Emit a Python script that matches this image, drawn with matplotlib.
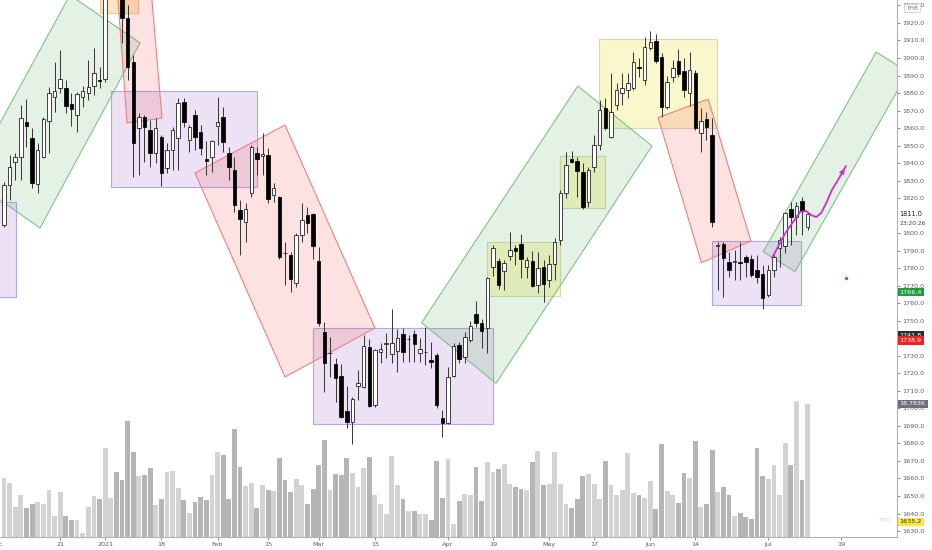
import matplotlib
matplotlib.use('Agg')
import matplotlib.pyplot as plt
from matplotlib.patches import Polygon, Rectangle
import numpy as np

# ---------------- data (daily candles) ----------------
opens = [1804.7, 1827.5, 1840.6, 1843.5, 1863.5, 1854.3, 1828.1, 1843.5, 1864.0, 1877.7,
         1882.9, 1882.9, 1873.7, 1867.5, 1877.7, 1880.0, 1884.0, 1887.4, 1888.0, 1943.0,
         1950.0, 1938.0, 1922.8, 1897.7, 1860.0, 1866.3, 1858.9, 1845.8, 1854.9, 1837.2,
         1847.5, 1854.3, 1874.9, 1853.2, 1867.5, 1857.8, 1842.3, 1843.5, 1861.2, 1866.3,
         1845.8, 1836.1, 1813.2, 1806.4, 1822.9, 1845.8, 1844.1, 1844.6, 1821.8, 1820.7,
         1788.7, 1787.6, 1771.6, 1799.0, 1810.4, 1811.0, 1784.1, 1743.6, 1731.4, 1725.3,
         1718.5, 1698.5, 1692.2, 1712.8, 1712.2, 1735.0, 1701.9, 1732.2, 1736.8, 1731.0,
         1732.8, 1742.4, 1739.4, 1742.4, 1731.6, 1732.0, 1727.6, 1730.5, 1694.5, 1691.7,
         1718.5, 1736.2, 1729.3, 1739.0, 1753.9, 1748.7, 1745.9, 1780.7, 1784.1, 1778.4,
         1787.0, 1791.5, 1793.8, 1780.7, 1784.1, 1770.4, 1780.7, 1773.3, 1782.4, 1796.1,
         1822.9, 1842.3, 1841.2, 1834.9, 1817.8, 1837.8, 1850.3, 1871.5, 1854.9, 1873.2,
         1880.0, 1881.7, 1882.9, 1894.5, 1887.4, 1905.7, 1909.7, 1900.6, 1872.0, 1889.2,
         1898.3, 1892.6, 1880.0, 1891.4, 1857.2, 1865.2, 1856.0, 1792.7, 1793.8, 1783.5,
         1783.4, 1783.0, 1786.4, 1785.3, 1779.0, 1776.7, 1764.7, 1779.0, 1791.5, 1792.7,
         1813.8, 1809.2, 1818.4, 1803.5]
highs = [1829.2, 1844.6, 1845.8, 1873.2, 1876.6, 1860.0, 1851.5, 1866.3, 1883.4, 1897.7,
         1904.6, 1887.4, 1880.0, 1880.6, 1884.0, 1898.9, 1905.7, 1894.9, 1945.0, 1959.0,
         1955.0, 1941.0, 1930.2, 1901.7, 1868.6, 1867.5, 1864.6, 1865.7, 1856.0, 1851.5,
         1860.6, 1877.2, 1877.2, 1861.8, 1870.3, 1861.8, 1852.6, 1853.2, 1877.7, 1872.0,
         1849.2, 1843.5, 1818.9, 1817.2, 1850.3, 1849.2, 1857.2, 1848.6, 1828.6, 1821.5,
         1795.0, 1789.3, 1800.1, 1817.2, 1815.0, 1811.5, 1792.1, 1749.3, 1740.7, 1728.7,
         1725.3, 1712.8, 1706.5, 1721.9, 1741.9, 1739.6, 1733.9, 1737.3, 1743.0, 1756.7,
         1745.3, 1745.9, 1741.9, 1744.7, 1740.2, 1746.5, 1737.9, 1731.6, 1699.1, 1723.6,
         1737.3, 1737.9, 1743.6, 1749.9, 1761.3, 1751.0, 1775.0, 1793.3, 1785.8, 1784.7,
         1800.7, 1793.3, 1799.5, 1786.4, 1789.8, 1789.3, 1784.7, 1787.6, 1797.3, 1824.6,
         1846.3, 1846.9, 1843.5, 1840.1, 1837.8, 1856.0, 1876.0, 1877.2, 1891.4, 1885.7,
         1891.4, 1891.4, 1903.4, 1900.0, 1912.0, 1915.4, 1913.7, 1902.9, 1889.7, 1898.9,
         1905.1, 1900.0, 1903.4, 1893.1, 1871.5, 1869.2, 1865.7, 1795.0, 1795.0, 1789.3,
         1790.4, 1795.0, 1787.6, 1787.6, 1787.6, 1781.9, 1781.9, 1787.6, 1797.8, 1812.1,
         1817.8, 1817.8, 1820.7, 1812.1]
lows = [1803.5, 1818.9, 1830.4, 1830.4, 1849.2, 1825.8, 1822.9, 1842.9, 1845.8, 1869.2,
        1880.0, 1868.6, 1861.2, 1857.8, 1872.0, 1876.0, 1878.9, 1882.9, 1886.3, 1938.0,
        1935.0, 1908.6, 1887.4, 1832.1, 1833.2, 1840.6, 1837.8, 1840.1, 1826.9, 1834.4,
        1836.1, 1836.1, 1860.6, 1846.4, 1847.5, 1844.6, 1833.2, 1834.9, 1850.3, 1846.4,
        1830.4, 1812.1, 1787.6, 1795.0, 1820.7, 1833.2, 1833.2, 1817.2, 1817.8, 1785.3,
        1770.4, 1766.4, 1769.3, 1795.0, 1800.1, 1785.3, 1747.0, 1709.3, 1717.9, 1703.6,
        1694.8, 1688.8, 1679.7, 1704.8, 1711.6, 1700.8, 1700.8, 1725.9, 1728.7, 1725.9,
        1720.8, 1726.5, 1726.5, 1726.5, 1726.5, 1724.8, 1723.0, 1700.2, 1683.7, 1691.1,
        1717.9, 1725.9, 1725.9, 1737.9, 1746.5, 1734.5, 1731.6, 1775.6, 1768.1, 1767.6,
        1784.7, 1781.9, 1774.4, 1774.4, 1769.3, 1765.9, 1760.7, 1769.3, 1773.3, 1793.3,
        1820.1, 1840.0, 1820.7, 1813.8, 1815.0, 1834.9, 1847.5, 1858.9, 1854.3, 1870.3,
        1873.2, 1877.2, 1881.7, 1889.2, 1884.6, 1904.6, 1897.2, 1866.3, 1870.9, 1886.3,
        1889.2, 1877.7, 1872.6, 1858.9, 1846.4, 1853.2, 1803.5, 1767.6, 1763.6, 1775.0,
        1773.3, 1773.3, 1775.0, 1775.0, 1771.6, 1756.7, 1763.6, 1775.0, 1780.7, 1788.7,
        1793.3, 1799.0, 1799.0, 1801.8]
closes = [1827.5, 1837.8, 1843.5, 1865.7, 1861.2, 1828.6, 1847.5, 1865.2, 1880.0, 1881.2,
          1888.0, 1872.6, 1870.9, 1879.4, 1881.2, 1883.4, 1891.4, 1886.9, 1943.0, 1950.0,
          1938.0, 1922.8, 1894.9, 1851.5, 1866.3, 1860.6, 1845.8, 1860.0, 1834.4, 1847.5,
          1858.9, 1874.3, 1863.5, 1860.6, 1854.9, 1848.6, 1841.2, 1852.6, 1863.5, 1852.1,
          1837.8, 1816.1, 1808.1, 1813.8, 1849.2, 1842.3, 1845.2, 1819.5, 1825.8, 1786.4,
          1788.5, 1773.9, 1799.0, 1807.5, 1805.8, 1792.7, 1748.7, 1725.9, 1731.6, 1717.3,
          1695.1, 1692.2, 1705.4, 1714.5, 1735.6, 1701.4, 1733.3, 1733.9, 1737.0, 1737.3,
          1740.2, 1732.2, 1739.6, 1736.8, 1733.9, 1732.2, 1726.5, 1701.9, 1691.7, 1717.9,
          1735.6, 1728.2, 1740.7, 1747.0, 1748.7, 1744.2, 1774.4, 1791.5, 1770.4, 1783.0,
          1790.4, 1789.8, 1785.3, 1784.7, 1769.9, 1780.1, 1771.0, 1782.4, 1795.0, 1822.9,
          1838.9, 1840.6, 1835.5, 1815.0, 1836.1, 1850.3, 1870.3, 1860.0, 1869.2, 1881.7,
          1882.9, 1885.7, 1897.7, 1894.3, 1906.3, 1909.1, 1898.3, 1872.0, 1886.3, 1894.3,
          1890.9, 1881.7, 1893.1, 1860.0, 1864.0, 1860.6, 1806.4, 1793.3, 1785.8, 1779.0,
          1783.6, 1782.9, 1783.5, 1776.1, 1775.0, 1763.0, 1779.0, 1786.4, 1796.1, 1811.5,
          1809.2, 1815.5, 1812.7, 1811.0]
volumes_k = [8.27, 7.60, 4.26, 5.88, 4.12, 4.69, 4.88, 4.69, 6.70, 3.01,
             6.35, 3.01, 2.39, 2.39, 0.57, 4.26, 5.74, 5.35, 12.58, 5.49,
             9.18, 7.99, 16.39, 11.95, 8.56, 8.70, 9.71, 4.55, 5.41, 9.13,
             9.32, 6.98, 5.26, 3.34, 4.92, 5.59, 5.26, 8.70, 12.05, 11.62,
             5.35, 15.24, 9.89, 7.13, 7.56, 4.12, 7.27, 6.64, 6.55, 11.14,
             7.99, 6.35, 8.22, 7.27, 4.63, 6.84, 10.18, 13.72, 6.70, 8.85,
             8.79, 11.14, 9.03, 7.03, 9.75, 11.29, 5.88, 4.59, 3.30, 11.43,
             7.31, 5.41, 3.73, 3.73, 3.20, 3.30, 2.39, 10.71, 5.49, 10.94,
             1.86, 5.02, 6.07, 5.98, 9.94, 5.12, 10.57, 9.22, 9.56, 10.28,
             7.50, 7.07, 6.74, 6.70, 10.61, 12.15, 7.36, 7.50, 11.95, 7.50,
             4.63, 4.16, 5.41, 8.56, 8.85, 7.50, 5.41, 10.76, 7.41, 5.88,
             6.70, 11.90, 6.17, 5.98, 5.49, 7.89, 3.97, 13.15, 6.45, 5.88,
             4.73, 8.99, 8.36, 13.62, 4.30, 4.69, 12.29, 6.35, 7.07, 5.98,
             2.97, 3.34, 2.83, 2.54, 12.58, 8.56, 8.17, 10.14, 5.98, 13.29,
             10.14, 19.26, 8.07, 18.783]

tick_pos = [10, 18, 28, 38, 47, 56, 66, 79, 87, 97, 105, 115, 123, 136, 149]
tick_labels = ['21', '2021', '18', 'Feb', '15', 'Mar', '15', 'Apr', '19', 'May',
               '17', 'Jun', '14', 'Jul', '19']
price_ticks = list(range(1630, 1931, 10))

# drawings: (bar, price) corners
purple_boxes = [(-3.0, 2.08, 1763.6, 1818.0), (19.0, 45.0, 1826.2, 1881.3),
                (55.0, 87.0, 1691.1, 1745.7), (125.9, 141.9, 1759.0, 1795.5)]
yellow_boxes = [(85.9, 98.9, 1764.1, 1795.1), (99.0, 107.0, 1814.2, 1844.1),
                (105.9, 126.8, 1859.9, 1910.7)]
orange_boxes = [(17.1, 23.9, 1925.5, 1945.0)]
green_channels = [[(-6.12, 1831.1), (11.73, 1935.9), (24.2, 1908.6), (6.41, 1803.0)],
                  [(74.32, 1748.9), (102.1, 1884.0), (115.3, 1849.8), (87.54, 1714.3)],
                  [(135.1, 1789.4), (155.2, 1903.4), (160.85, 1892.0), (140.75, 1778.0)]]
red_channels = [[(20.02, 1944.5), (21.89, 1862.9), (28.11, 1865.7), (26.03, 1944.5)],
                [(50.0, 1861.75), (33.99, 1834.35), (50.0, 1717.9), (66.01, 1745.9)],
                [(116.4, 1866.0), (125.3, 1876.5), (132.9, 1795.5), (124.1, 1783.2)]]
path_bar = [136.65, 137.9, 139.15, 140.4, 141.64, 142.7, 143.6, 144.5, 145.4, 146.3,
            147.3, 148.6, 149.8]
path_price = [1785.8, 1793.3, 1800.7, 1806.4, 1812.1, 1812.7, 1810.4, 1809.2, 1811.5,
              1817.2, 1824.6, 1831.5, 1838.3]

# ---------------- figure ----------------
W, H = 932, 550
AX_BOTTOM = 537
AX_RIGHT = 897
fig = plt.figure(figsize=(W / 100, H / 100), dpi=100)
fig.patch.set_facecolor('white')
ax = fig.add_axes([0, (H - AX_BOTTOM) / H, AX_RIGHT / W, AX_BOTTOM / H])
axv = ax.twinx()
ax.set_zorder(axv.get_zorder() + 1)
ax.patch.set_visible(False)

idx = np.arange(len(opens))
o = np.array(opens)
c = np.array(closes)
up = c >= o

# volume
vol_colors = ['#d3d3d3' if u else '#b5b5b5' for u in up]
axv.bar(idx, volumes_k, width=0.86, color=vol_colors, linewidth=0)
axv.set_ylim(0, 75.8)
axv.set_axis_off()

# drawings
def rgba(hexc, a):
    hexc = hexc.lstrip('#')
    return tuple(int(hexc[i:i + 2], 16) / 255 for i in (0, 2, 4)) + (a,)

for x0, x1, p0, p1 in purple_boxes:
    ax.add_patch(Rectangle((x0, p0), x1 - x0, p1 - p0, fc=rgba('#8737bc', 0.15),
                           ec='#a7abe9', lw=0.8, zorder=2))
for x0, x1, p0, p1 in yellow_boxes:
    ax.add_patch(Rectangle((x0, p0), x1 - x0, p1 - p0, fc=rgba('#f3e337', 0.25),
                           ec='#d8d6bc', lw=0.8, zorder=2))
for x0, x1, p0, p1 in orange_boxes:
    ax.add_patch(Rectangle((x0, p0), x1 - x0, p1 - p0, fc=rgba('#ff9800', 0.25),
                           ec='#f0c890', lw=0.8, zorder=2))
for pts in green_channels:
    ax.add_patch(Polygon(pts, closed=True, fc=rgba('#44a84b', 0.15),
                         ec='#7ec48a', lw=0.8, zorder=2))
for pts in red_channels:
    ax.add_patch(Polygon(pts, closed=True, fc=rgba('#f23e3e', 0.15),
                         ec='#ef8080', lw=0.8, zorder=2))

# candles
body_lo = np.minimum(o, c)
body_h = np.maximum(np.abs(c - o), 0.45)
ax.vlines(idx, lows, highs, color='#333333', linewidth=0.7, zorder=4)
ax.bar(idx[up], body_h[up], bottom=body_lo[up], width=0.62, facecolor='white',
       edgecolor='#111111', linewidth=0.55, zorder=5)
ax.bar(idx[~up], body_h[~up], bottom=body_lo[~up], width=0.62, facecolor='black',
       edgecolor='black', linewidth=0.55, zorder=5)

# magenta brush + arrow
mag = '#d42ad4'
ax.plot(path_bar, path_price, color=mag, lw=1.3, zorder=6, solid_capstyle='round')
ax.annotate('', xy=(path_bar[-1], path_price[-1]), xytext=(path_bar[-2], path_price[-2]),
            arrowprops=dict(arrowstyle='->', color=mag, lw=1.1, mutation_scale=7), zorder=6)
ax.plot([149.8], [1774.4], 'o', ms=1.4, color=mag, zorder=6)

# axes styling
ax.set_xlim(-0.712, 158.9)
ax.set_ylim(1626.6, 1933.1)
axv.set_xlim(-0.712, 158.9)
for s in ('top', 'left'):
    ax.spines[s].set_visible(False)
for s in ('right', 'bottom'):
    ax.spines[s].set_color('#b2b2b2')
    ax.spines[s].set_linewidth(0.8)
ax.yaxis.tick_right()
ax.set_yticks(price_ticks)
ax.set_yticklabels([f'{v:.1f}' for v in price_ticks])
ax.set_xticks(tick_pos)
ax.set_xticklabels(tick_labels)
ax.tick_params(axis='y', labelsize=4.6, colors='#5c5c5c', length=2.5, width=0.5, pad=1.5)
ax.tick_params(axis='x', labelsize=4.6, colors='#5c5c5c', length=2, width=0.5, pad=1.5)

fig.text(-3 / W, 1 - 545 / H, 'Dec', ha='center', va='center', fontsize=4.6, color='#5c5c5c')

# right-hand price labels
ytr = ax.get_yaxis_transform()
def tag(price, txt, fc, tc, trans=ytr):
    ax.text(1.003, price, txt, transform=trans, ha='left', va='center', fontsize=4.6,
            color=tc, clip_on=False, zorder=20,
            bbox=dict(boxstyle='square,pad=0.3', fc=fc, ec='none'))

ax.text(1.003, 1811.0, '1811.0', transform=ytr, ha='left', va='center', fontsize=4.8,
        color='#222222', clip_on=False, zorder=20,
        bbox=dict(boxstyle='square,pad=0.25', fc='white', ec='none'))
ax.text(1.003, 1805.5, '23:20:26', transform=ytr, ha='left', va='center', fontsize=4.2,
        color='#444444', clip_on=False, zorder=20)
tag(1766.4, '1766.4', '#1f9e3e', 'white')
tag(1741.8, '1741.8', '#2e2e2e', 'white')
tag(1738.9, '1738.9', '#ee2222', 'white')
tag(1635.2, '1635.2', '#fbe83a', '#333333')
ax.text(1.003, 18.783, '18.783K', transform=axv.get_yaxis_transform(), ha='left',
        va='center', fontsize=4.6, color='white', clip_on=False, zorder=20,
        bbox=dict(boxstyle='square,pad=0.3', fc='#6f717a', ec='none'))
fig.text(912 / W, 1 - 8 / H, 'THB', ha='center', va='center', fontsize=4.2, color='#777777',
         bbox=dict(boxstyle='square,pad=0.3', fc='white', ec='#c8c8c8', lw=0.5))
fig.text(884 / W, 1 - 521 / H, 'TPO', ha='center', va='center', fontsize=4.6, color='#d6d6d6')

fig.savefig('out.png', dpi=100, facecolor='white')
